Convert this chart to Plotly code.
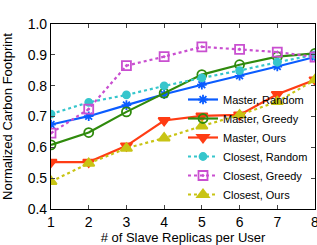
import plotly.graph_objects as go

x = [1, 2, 3, 4, 5, 6, 7, 8]
master_random = [0.674, 0.701, 0.737, 0.772, 0.803, 0.832, 0.862, 0.893]
master_greedy = [0.608, 0.648, 0.715, 0.776, 0.836, 0.868, 0.894, 0.905]
master_ours = [0.552, 0.552, 0.605, 0.687, 0.702, 0.705, 0.772, 0.819]
closest_random = [0.708, 0.746, 0.770, 0.799, 0.825, 0.849, 0.876, 0.900]
closest_greedy = [0.646, 0.724, 0.865, 0.894, 0.926, 0.918, 0.909, 0.893]
closest_ours = [0.489, 0.548, 0.597, 0.630, 0.669, 0.705, 0.748, 0.819]

series = [
    ("Master, Random", master_random, "#0a5cff", "solid", "asterisk-open", 8),
    ("Master, Greedy", master_greedy, "#2f8a0c", "solid", "circle-open", 9),
    ("Master, Ours", master_ours, "#ff3c14", "solid", "triangle-down", 10),
    ("Closest, Random", closest_random, "#36c6cc", "dot", "circle", 7),
    ("Closest, Greedy", closest_greedy, "#c94fd0", "dot", "square-open-dot", 9),
    ("Closest, Ours", closest_ours, "#c8c414", "dot", "triangle-up", 10),
]

fig = go.Figure()
for name, ys, col, dash, sym, size in series:
    fig.add_trace(go.Scatter(
        x=x, y=ys, name=name, mode="lines+markers",
        line=dict(color=col, width=2.2, dash=dash),
        marker=dict(symbol=sym, size=size, color=col,
                    line=dict(color=col, width=1.8)),
    ))

fig.update_layout(
    width=317, height=245,
    margin=dict(l=51, r=2, t=24, b=36, autoexpand=False),
    paper_bgcolor="white", plot_bgcolor="white",
    font=dict(family="Liberation Sans, Arial, sans-serif", color="black", size=13),
    legend=dict(x=0.5, y=0.0, xanchor="left", yanchor="bottom",
                bgcolor="rgba(0,0,0,0)", font=dict(size=11),
                tracegroupgap=0),
    showlegend=True,
)
fig.update_xaxes(
    range=[1, 8], tickvals=x, ticks="inside", ticklen=4,
    showline=True, linecolor="black", linewidth=1.2, mirror="ticks",
    showgrid=False, zeroline=False, tickfont=dict(size=14), automargin=False,
    ticklabeloverflow="allow",
    title=dict(text="# of Slave Replicas per User", font=dict(size=13)),
)
fig.update_yaxes(
    range=[0.4, 1.0], tickvals=[0.4, 0.5, 0.6, 0.7, 0.8, 0.9, 1.0],
    ticktext=["0.4", "0.5", "0.6", "0.7", "0.8", "0.9", "1.0"],
    ticks="inside", ticklen=4,
    showline=True, linecolor="black", linewidth=1.2, mirror="ticks",
    showgrid=False, zeroline=False, tickfont=dict(size=14), automargin=False,
    ticklabeloverflow="allow",
    title=dict(text="Normalized Carbon Footprint", font=dict(size=13)),
)

fig.write_html("out.html", config={"displayModeBar": False},
               post_script="document.body.style.margin='0';document.body.style.overflow='hidden';")
